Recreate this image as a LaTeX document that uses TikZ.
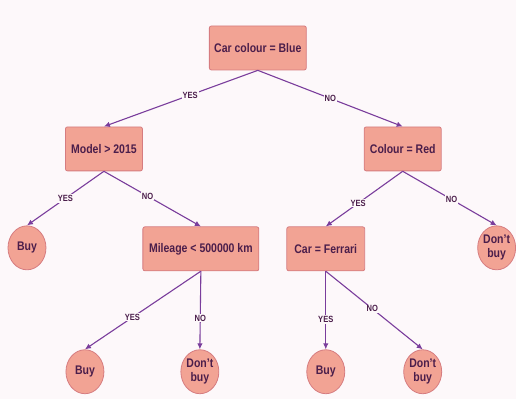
\documentclass[tikz,border=0pt]{standalone}
\usepackage{fontspec}
\setmainfont[FakeStretch=0.84]{Liberation Sans}
\usetikzlibrary{arrows.meta, shapes.geometric}
\definecolor{bg}{HTML}{FDF8FA}
\definecolor{salmon}{HTML}{F2A394}
\definecolor{rim}{HTML}{D67C80}
\definecolor{ink}{HTML}{4B1E4B}
\definecolor{wire}{HTML}{7A3D9C}

\begin{document}
\begin{tikzpicture}[
		x=1pt, y=-1pt,
		test/.style={draw=rim, fill=salmon, rectangle, rounded corners=2pt, line width=0.8pt, minimum height=44pt, inner xsep=4pt, text=ink, font=\bfseries\fontsize{12.5}{14}\selectfont},
		leaf/.style={draw=rim, fill=salmon, ellipse, line width=0.8pt, minimum width=38pt, minimum height=44pt, inner sep=0pt, align=center, text=ink, font=\bfseries\fontsize{12.5}{14}\selectfont},
		branch/.style={draw=wire, line width=1.1pt, -{Latex[length=6pt,width=5.5pt]}},
		answer/.style={fill=bg, inner sep=1pt, text=ink, font=\bfseries\fontsize{9}{10}\selectfont}
	]

	\fill[bg] (0,0) rectangle (516,399);

	% tests
	\node[test, minimum width=97pt] (colour-blue) at (258, 48) {Car colour = Blue};
	\node[test, minimum width=77pt] (model) at (104, 149) {Model > 2015};
	\node[test, minimum width=77pt] (colour-red) at (403, 149) {Colour = Red};
	\node[test, minimum width=116pt] (mileage) at (201, 249) {Mileage < 500000 km};
	\node[test, minimum width=78pt] (ferrari) at (326, 249) {Car = Ferrari};

	% leaves
	\node[leaf] (buy-1) at (27, 248) {Buy};
	\node[leaf, minimum width=37pt] (nobuy-1) at (497, 248) {Don't\\buy};
	\node[leaf] (buy-2) at (85, 372) {Buy};
	\node[leaf] (nobuy-2) at (200, 372) {Don't\\buy};
	\node[leaf] (buy-3) at (326, 372) {Buy};
	\node[leaf] (nobuy-3) at (423, 372) {Don't\\buy};

	% branches
	\draw[branch] (colour-blue.south) -- node[answer, pos=0.44] {YES} (model.north);
	\draw[branch] (colour-blue.south) -- node[answer, pos=0.5] {NO} (colour-red.north);
	\draw[branch] (model.south) -- node[answer, pos=0.5] {YES} (buy-1.north);
	\draw[branch] (model.south) -- node[answer, pos=0.45] {NO} (mileage.north);
	\draw[branch] (colour-red.south) -- node[answer, pos=0.58] {YES} (ferrari.north);
	\draw[branch] (colour-red.south) -- node[answer, pos=0.52] {NO} (nobuy-1.north);
	\draw[branch] (mileage.south) -- node[answer, pos=0.59] {YES} (buy-2.north);
	\draw[branch] (mileage.south) -- node[answer, pos=0.6] {NO} (nobuy-2.north);
	\draw[branch] (ferrari.south) -- node[answer, pos=0.62] {YES} (buy-3.north);
	\draw[branch] (ferrari.south) -- node[answer, pos=0.48] {NO} (nobuy-3.north);

\end{tikzpicture}
\end{document}
